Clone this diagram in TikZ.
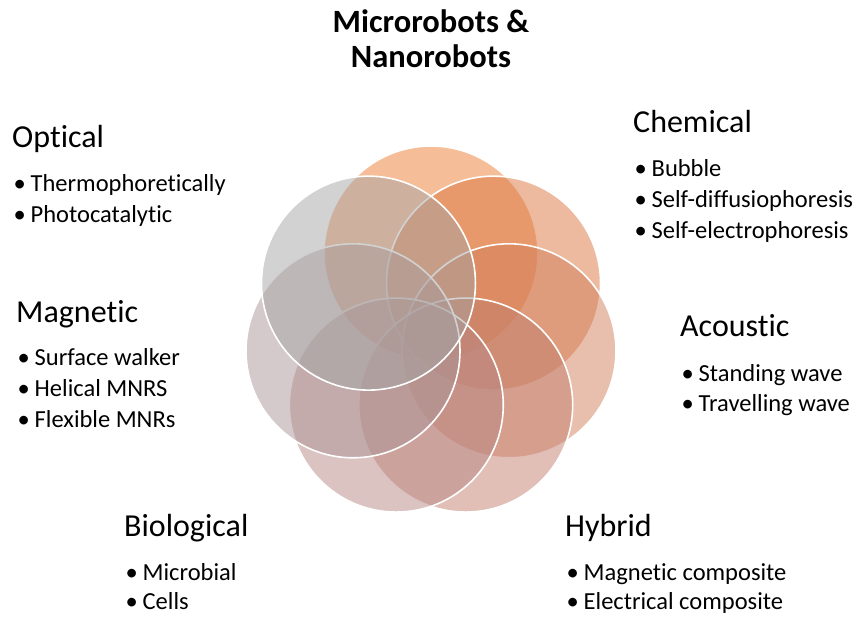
\documentclass[tikz,border=0pt]{standalone}
\usepackage{fontspec}
\setmainfont{Carlito}[Ligatures={NoCommon}]
\usetikzlibrary{calc}
\newcommand{\bul}{\makebox[18.5pt][l]{\hspace{1.5pt}•}}
\begin{document}
\begin{tikzpicture}[x=1pt,y=-1pt,
  petal/.style={fill opacity=0.5, draw=white, draw opacity=1, line width=1.6pt},
  head/.style={anchor=base west, inner sep=0pt, font=\fontsize{32}{38}\selectfont},
  item/.style={anchor=base west, inner sep=0pt, font=\fontsize{24.5}{29}\selectfont},
  ttl/.style={anchor=base, inner sep=0pt, font=\bfseries\fontsize{32.5}{38}\selectfont}]
\definecolor{cA}{HTML}{ED7D31}
\definecolor{cB}{HTML}{DB753F}
\definecolor{cC}{HTML}{D27E5B}
\definecolor{cD}{HTML}{C37F6F}
\definecolor{cE}{HTML}{B78785}
\definecolor{cF}{HTML}{AB9597}
\definecolor{cG}{HTML}{A5A5A5}
\useasboundingbox (0,0) rectangle (857,616);
\coordinate (ctr) at (431,333);
\foreach \i/\c in {0/cA,1/cB,2/cC,3/cD,4/cE,5/cF,6/cG}{
  \filldraw[petal, fill=\c] ($(ctr)+({90-\i*360/7}:80 and -80)$) circle[radius=107];
}
% title
\node[ttl] (t1) at (431,32) {Microrobots \&};
\node[ttl] (t2) at (431,67) {Nanorobots};
% Optical
\node[head] (opt) at (12,147) {Optical};
\node[item] (opt1) at (12,191) {\bul Thermophoretically};
\node[item] (opt2) at (12,222) {\bul Photocatalytic};
% Chemical
\node[head] (che) at (633,132) {Chemical};
\node[item] (che1) at (633,176) {\bul Bubble};
\node[item] (che2) at (633,207) {\bul Self-diffusiophoresis};
\node[item] (che3) at (633,238) {\bul Self-electrophoresis};
% Magnetic
\node[head] (mag) at (16,322) {Magnetic};
\node[item] (mag1) at (16,365) {\bul Surface walker};
\node[item] (mag2) at (16,396) {\bul Helical MNRS};
\node[item] (mag3) at (16,427) {\bul Flexible MNRs};
% Acoustic
\node[head] (aco) at (680,336) {Acoustic};
\node[item] (aco1) at (680,381) {\bul Standing wave};
\node[item] (aco2) at (680,411) {\bul Travelling wave};
% Biological
\node[head] (bio) at (124,536) {Biological};
\node[item] (bio1) at (124,580) {\bul Microbial};
\node[item] (bio2) at (124,609) {\bul Cells};
% Hybrid
\node[head] (hyb) at (565,536) {Hybrid};
\node[item] (hyb1) at (565,580) {\bul Magnetic composite};
\node[item] (hyb2) at (565,609) {\bul Electrical composite};
\end{tikzpicture}
\end{document}
